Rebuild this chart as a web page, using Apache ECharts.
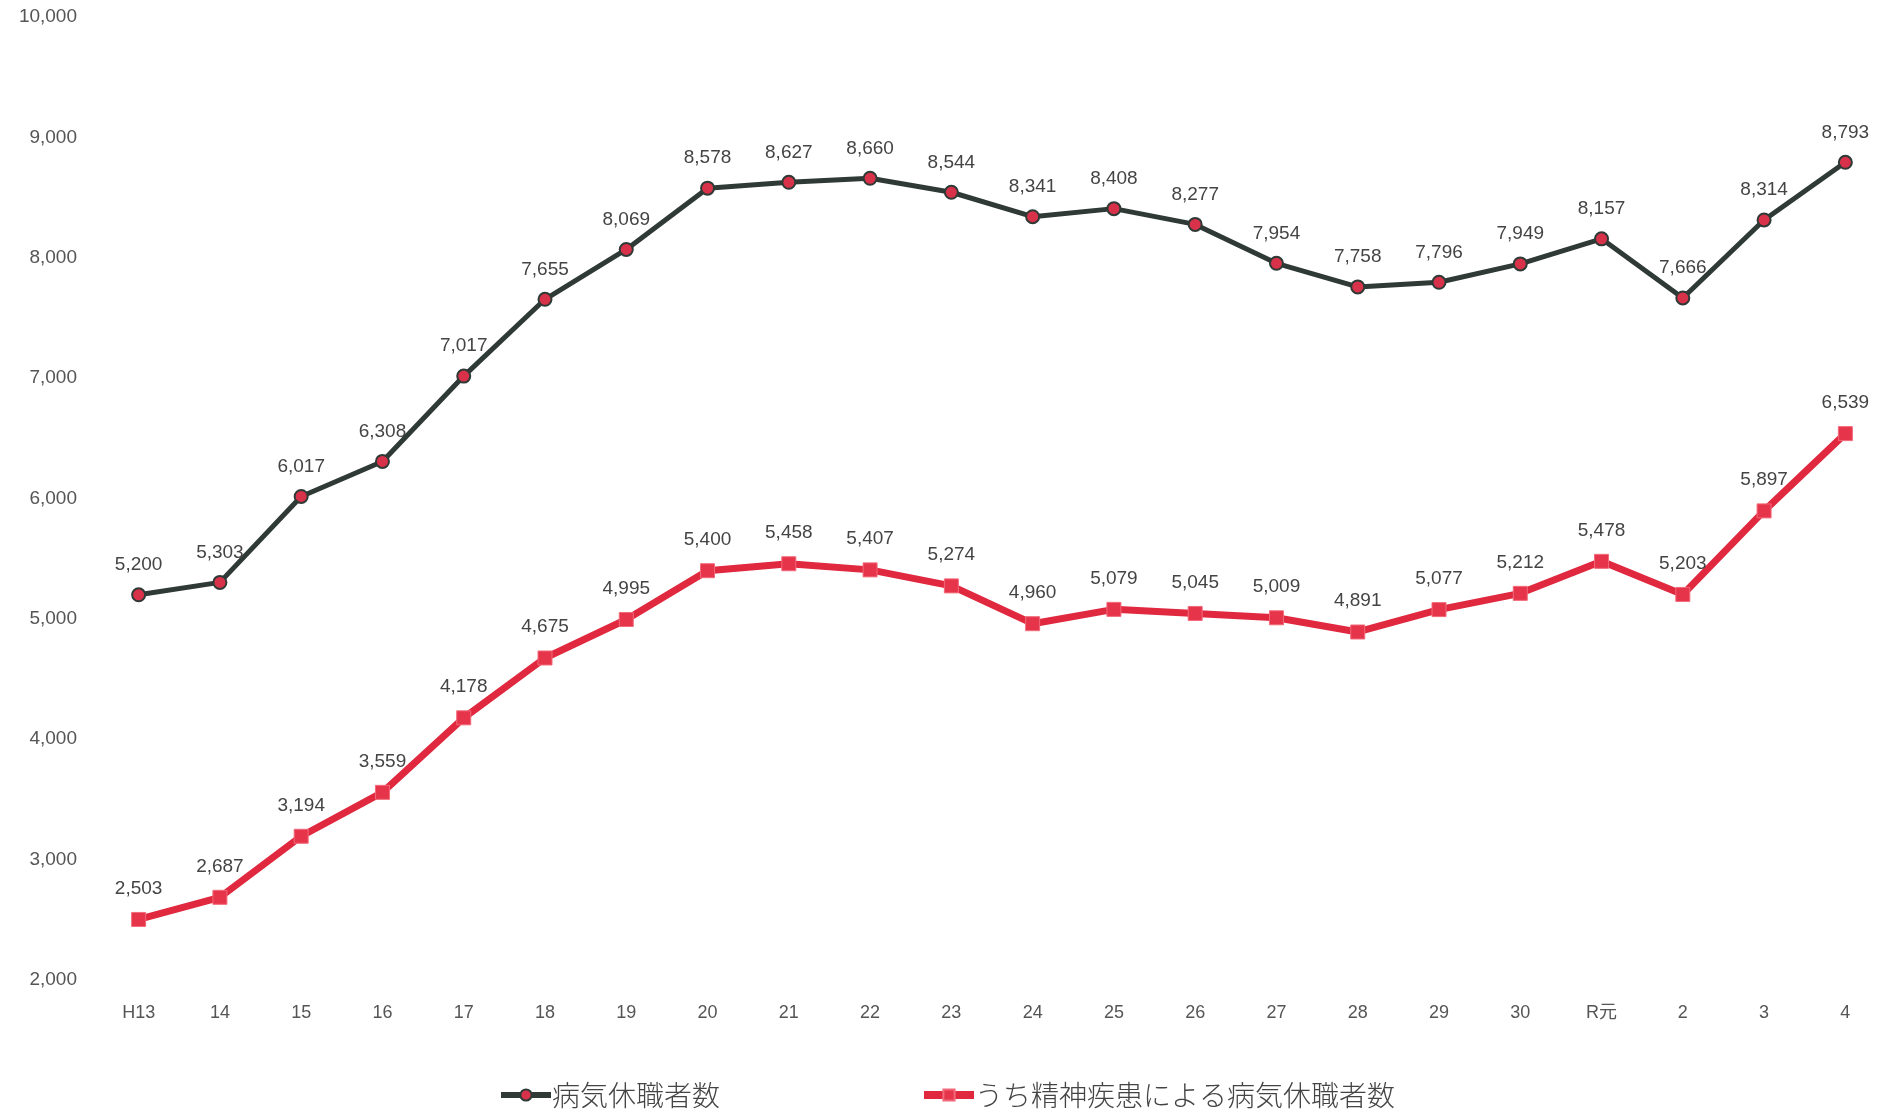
<!DOCTYPE html>
<html><head><meta charset="utf-8">
<script src="https://cdn.jsdelivr.net/npm/echarts@6/dist/echarts.min.js"></script>
<style>html,body{margin:0;padding:0;background:#fff}#c{width:1893px;height:1114px}</style>
</head><body><div id="c"></div>
<script>
const categories = ['H13','14','15','16','17','18','19','20','21','22','23','24','25','26','27','28','29','30','R元','2','3','4'];
const totalLeave = [5200,5303,6017,6308,7017,7655,8069,8578,8627,8660,8544,8341,8408,8277,7954,7758,7796,7949,8157,7666,8314,8793];
const mentalLeave = [2503,2687,3194,3559,4178,4675,4995,5400,5458,5407,5274,4960,5079,5045,5009,4891,5077,5212,5478,5203,5897,6539];
const yTicks = {min:2000, max:10000, interval:1000};
const seriesNames = ['病気休職者数','うち精神疾患による病気休職者数'];

const font = '"Liberation Sans", "Noto Sans CJK JP", sans-serif';
const chart = echarts.init(document.getElementById('c'));
const fmt = v => v.toLocaleString('en-US');
chart.setOption({
  backgroundColor:'#fff',
  animation:false,
  grid:{left:98,right:7,top:17,bottom:134},
  legend:{
    bottom:0, left:'center', itemGap:200, itemWidth:50, itemHeight:14,
    textStyle:{fontSize:28,color:'#444',fontFamily:'"Noto Sans CJK JP", sans-serif',fontWeight:300,padding:[0,0,0,-4]},
    data:[
      {name:seriesNames[0], lineStyle:{width:6,color:'#2f3a36'}},
      {name:seriesNames[1], lineStyle:{width:8,color:'#e0283f'}}
    ]
  },
  xAxis:{
    type:'category', data:categories, boundaryGap:true,
    axisLine:{show:false}, axisTick:{show:false},
    axisLabel:{fontSize:18,color:'#555',fontFamily:font,margin:24}
  },
  yAxis:{
    type:'value', min:yTicks.min, max:yTicks.max, interval:yTicks.interval,
    axisLine:{show:false}, axisTick:{show:false}, splitLine:{show:false},
    axisLabel:{fontSize:19,color:'#555',fontFamily:font,margin:21,formatter:v=>fmt(v)}
  },
  series:[
    {
      name:seriesNames[0], type:'line', data:totalLeave,
      symbol:'circle', symbolSize:13,
      lineStyle:{color:'#2f3a36',width:5},
      itemStyle:{color:'#d8324a',borderColor:'#2f3a36',borderWidth:2},
      label:{show:true,position:'top',distance:13,fontSize:19,color:'#444',fontFamily:font,formatter:p=>fmt(p.value)}
    },
    {
      name:seriesNames[1], type:'line', data:mentalLeave,
      symbol:'rect', symbolSize:14,
      lineStyle:{color:'#e0283f',width:7},
      itemStyle:{color:'#e6344a',borderColor:'#f26a7a',borderWidth:1},
      label:{show:true,position:'top',distance:14,fontSize:19,color:'#444',fontFamily:font,formatter:p=>fmt(p.value)}
    }
  ]
});
</script></body></html>
